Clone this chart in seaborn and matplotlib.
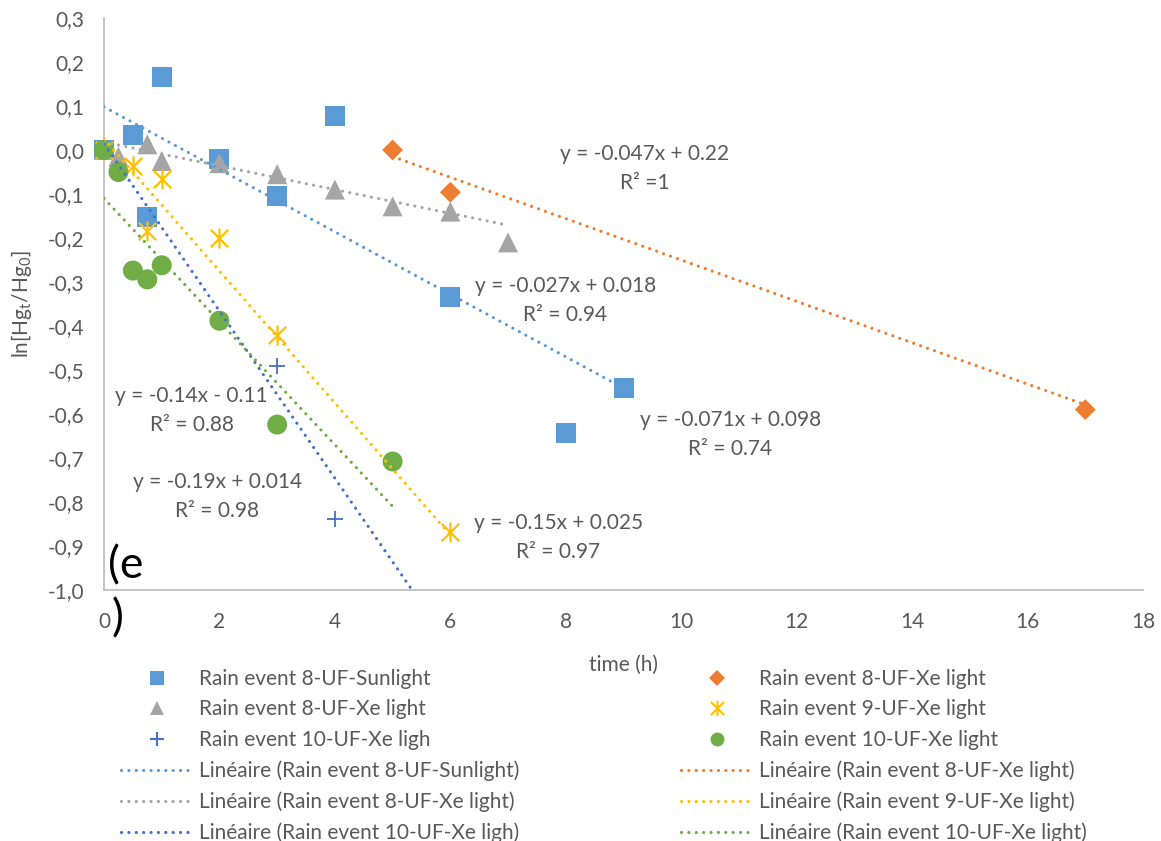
import numpy as np
import pandas as pd
import matplotlib
matplotlib.use("Agg")
import matplotlib.pyplot as plt
from matplotlib.lines import Line2D
from matplotlib.path import Path
import seaborn as sns

# ---------------- data ----------------
sun8_x = [0, 0.5, 0.75, 1, 2, 3, 4, 6, 8, 9]
sun8_y = [0, 0.035, -0.153, 0.165, -0.02, -0.105, 0.078, -0.333, -0.643, -0.54]

xe8b_x = [5, 6, 17]
xe8b_y = [0, -0.096, -0.59]

xe8_x = [0, 0.25, 0.75, 1, 2, 3, 4, 5, 6, 7]
xe8_y = [0, -0.015, 0.013, -0.025, -0.03, -0.055, -0.09, -0.128, -0.14, -0.21]

xe9_x = [0, 0.5, 0.75, 1, 2, 3, 6]
xe9_y = [0, -0.037, -0.185, -0.067, -0.2, -0.42, -0.869]

xe10a_x = [0, 3, 4]
xe10a_y = [0, -0.492, -0.838]

xe10_x = [0, 0.25, 0.5, 0.75, 1, 2, 3, 5]
xe10_y = [0, -0.05, -0.274, -0.294, -0.262, -0.388, -0.624, -0.708]

series_names = [
    "Rain event 8-UF-Sunlight",
    "Rain event 8-UF-Xe light",
    "Rain event 8-UF-Xe light",
    "Rain event 9-UF-Xe light",
    "Rain event 10-UF-Xe ligh",
    "Rain event 10-UF-Xe light",
]

# linear trendlines: slope, intercept, R², x-range
trend_slope = [-0.071, -0.047, -0.027, -0.15, -0.19, -0.14]
trend_intercept = [0.098, 0.22, 0.018, 0.025, 0.014, -0.11]
trend_r2 = [0.74, 1, 0.94, 0.97, 0.98, 0.88]
trend_xmin = [0, 5, 0, 0, 0, 0]
trend_xmax = [9, 17, 7, 6, 6, 5]

x_ticks = [0, 2, 4, 6, 8, 10, 12, 14, 16, 18]
y_ticks = [0.3, 0.2, 0.1, 0.0, -0.1, -0.2, -0.3, -0.4, -0.5, -0.6, -0.7, -0.8, -0.9, -1.0]

# ---------------- style ----------------
sns.set_theme(style="white")
plt.rcParams["font.family"] = ["Lato", "DejaVu Sans"]
plt.rcParams["mathtext.fontset"] = "custom"
plt.rcParams["mathtext.rm"] = "Lato"

FS = 15
TXT = "#595959"
colors = ["#5B9BD5", "#ED7D31", "#A5A5A5", "#FFC000", "#4472C4", "#70AD47"]

star = Path(
    [(0, -1), (0, 1), (-0.87, -0.87), (0.87, 0.87), (-0.87, 0.87), (0.87, -0.87)],
    [Path.MOVETO, Path.LINETO, Path.MOVETO, Path.LINETO, Path.MOVETO, Path.LINETO],
)
markers = ["s", "D", "^", star, "+", "o"]
msize = [14.4, 10.6, 14.4, 14.4, 12.0, 14.4]
leg_msize = [10, 8, 10, 11, 10, 10]

xs = [sun8_x, xe8b_x, xe8_x, xe9_x, xe10a_x, xe10_x]
ys = [sun8_y, xe8b_y, xe8_y, xe9_y, xe10a_y, xe10_y]

fig = plt.figure(figsize=(11.61, 8.41), dpi=100)
ax = fig.add_axes([104 / 1161, 1 - 590 / 841, (1143 - 104) / 1161, (590 - 18) / 841])

# markers
for i in range(6):
    df = pd.DataFrame({"t": xs[i], "v": ys[i]})
    kw = dict(marker=markers[i], s=msize[i] ** 2, clip_on=False, zorder=3 + i * 0.01, legend=False)
    if markers[i] in ("+",):
        kw.update(color=colors[i], linewidth=1.3)
    elif markers[i] is star:
        kw.update(color=colors[i], edgecolor=colors[i], linewidth=1.6)
    else:
        kw.update(color=colors[i], edgecolor="none", linewidth=0)
    sns.scatterplot(data=df, x="t", y="v", ax=ax, **kw)

# dotted trendlines on top of the markers
DOT = (0, (0.01, 2.3))
for i in range(6):
    tx = np.array([trend_xmin[i], trend_xmax[i]], dtype=float)
    ty = trend_slope[i] * tx + trend_intercept[i]
    sns.lineplot(x=tx, y=ty, ax=ax, color=colors[i], linewidth=2.3,
                 linestyle=DOT, dash_capstyle="round", zorder=4)


def fmt_eq(m, b):
    sign = "+" if b >= 0 else "-"
    return f"y = {m:g}x {sign} {abs(b):g}"


def fmt_r2(r):
    return "R² =1" if r == 1 else f"R² = {r:g}"


# equation label anchors (data coords)
label_pos = [(10.85, -0.613), (9.37, -0.01), (7.99, -0.31),
             (7.87, -0.848), (1.96, -0.754), (1.52, -0.558)]
for i in range(6):
    lx, ly = label_pos[i]
    ax.text(lx, ly, fmt_eq(trend_slope[i], trend_intercept[i]), ha="center", va="center",
            fontsize=FS, color=TXT, zorder=6)
    ax.text(lx, ly - 0.066, fmt_r2(trend_r2[i]), ha="center", va="center",
            fontsize=FS, color=TXT, zorder=6)

# axes
ax.set_xlim(0, 18)
ax.set_ylim(-1.0, 0.3)
ax.set_xticks(x_ticks)
ax.set_xticklabels([str(v) for v in x_ticks])
ax.set_yticks(y_ticks)
ax.set_yticklabels([f"{v:.1f}".replace(".", ",") for v in y_ticks])
ax.tick_params(axis="both", length=0, labelsize=FS, labelcolor=TXT)
ax.tick_params(axis="y", pad=14)
ax.tick_params(axis="x", pad=16)
for s in ("top", "right"):
    ax.spines[s].set_visible(False)
for s in ("left", "bottom"):
    ax.spines[s].set_color("#BFBFBF")
    ax.spines[s].set_linewidth(1.3)
ax.grid(False)
ax.set_xlabel("time (h)", fontsize=FS, color=TXT, labelpad=16)
ax.set_ylabel(r"ln[Hg$_\mathregular{t}$/Hg$_\mathregular{0}$]", fontsize=FS, color=TXT, labelpad=10)

# panel tag, split over two lines
fig.text(108 / 1161, 1 - 545 / 841, "(e", fontsize=32, color="black", ha="left", va="top")
fig.text(112 / 1161, 1 - 598 / 841, ")", fontsize=32, color="black", ha="left", va="top")

# legend: two columns
def marker_handle(i):
    return Line2D([], [], linestyle="none", marker=markers[i], markersize=leg_msize[i],
                  color=colors[i], markeredgecolor=colors[i],
                  markeredgewidth=1.5 if markers[i] in ("+",) or markers[i] is star else 0)


def line_handle(i):
    return Line2D([], [], color=colors[i], linewidth=2.3, linestyle=DOT, dash_capstyle="round")


left = [0, 2, 4]
right = [1, 3, 5]
for cols, x0 in ((left, 121), (right, 681)):
    handles = [marker_handle(i) for i in cols] + [line_handle(i) for i in cols]
    labels = [series_names[i] for i in cols] + [f"Linéaire ({series_names[i]})" for i in cols]
    fig.legend(handles, labels, loc="upper left", bbox_to_anchor=(x0 / 1161, 1 - 669 / 841),
               frameon=False, borderpad=0, borderaxespad=0, handlelength=3.5,
               handletextpad=0.25, labelspacing=0.5, fontsize=FS, labelcolor=TXT)

fig.savefig("out.png", dpi=100)
